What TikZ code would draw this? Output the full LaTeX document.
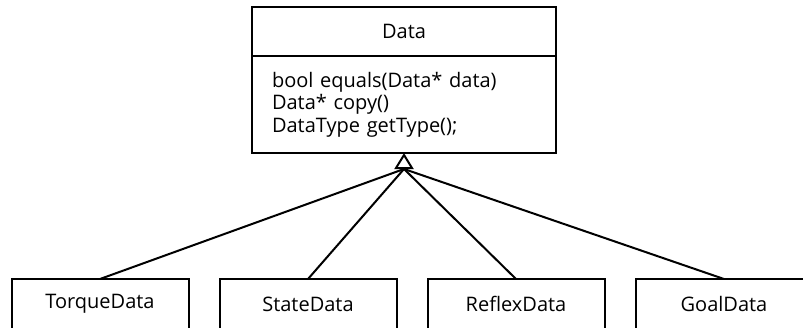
\documentclass[tikz,border=0pt]{standalone}
\usepackage{fontspec}
\setmainfont{Open Sans}
\usetikzlibrary{arrows.meta}
\begin{document}
\begin{tikzpicture}[x=1pt, y=-1pt, line width=2pt,
  umltext/.style={font=\fontsize{20}{22.5}\selectfont},
  classbox/.style={draw, umltext, minimum width=177pt, minimum height=50pt, inner sep=0pt, outer sep=0pt},
  titlebox/.style={draw, umltext, minimum width=304pt, minimum height=49pt, inner sep=0pt, outer sep=0pt},
  opsbox/.style={draw, umltext, minimum width=304pt, minimum height=97pt, text width=264pt,
    inner xsep=20pt, inner ysep=0pt, outer sep=0pt, align=left},
  inherit/.style={-{Triangle[open, length=16pt, width=19pt]}},
  link/.style={line cap=round}]
  \useasboundingbox (0,0) rectangle (803,327);
  \clip (0,0) rectangle (803,327);

  % base class with its operations compartment
  \node[titlebox] (data) at (404,31.5) {Data};
  \node[opsbox, anchor=north] (ops) at (data.south) {bool equals(Data* data)\\Data* copy()\\DataType getType();};

  % derived classes
  \node[classbox] (torque) at (100,304) {TorqueData};
  \node[classbox] (state)  at (308,304) {StateData};
  \node[classbox] (reflex) at (516,304) {ReflexData};
  \node[classbox] (goal)   at (724,304) {GoalData};

  % generalisation: all links meet below the open triangle
  \coordinate (hub) at (404,169);
  \draw[inherit] (hub) -- (ops.south);
  \foreach \c in {torque,state,reflex,goal}
    \draw[link] (\c.north) -- (hub);
\end{tikzpicture}
\end{document}
